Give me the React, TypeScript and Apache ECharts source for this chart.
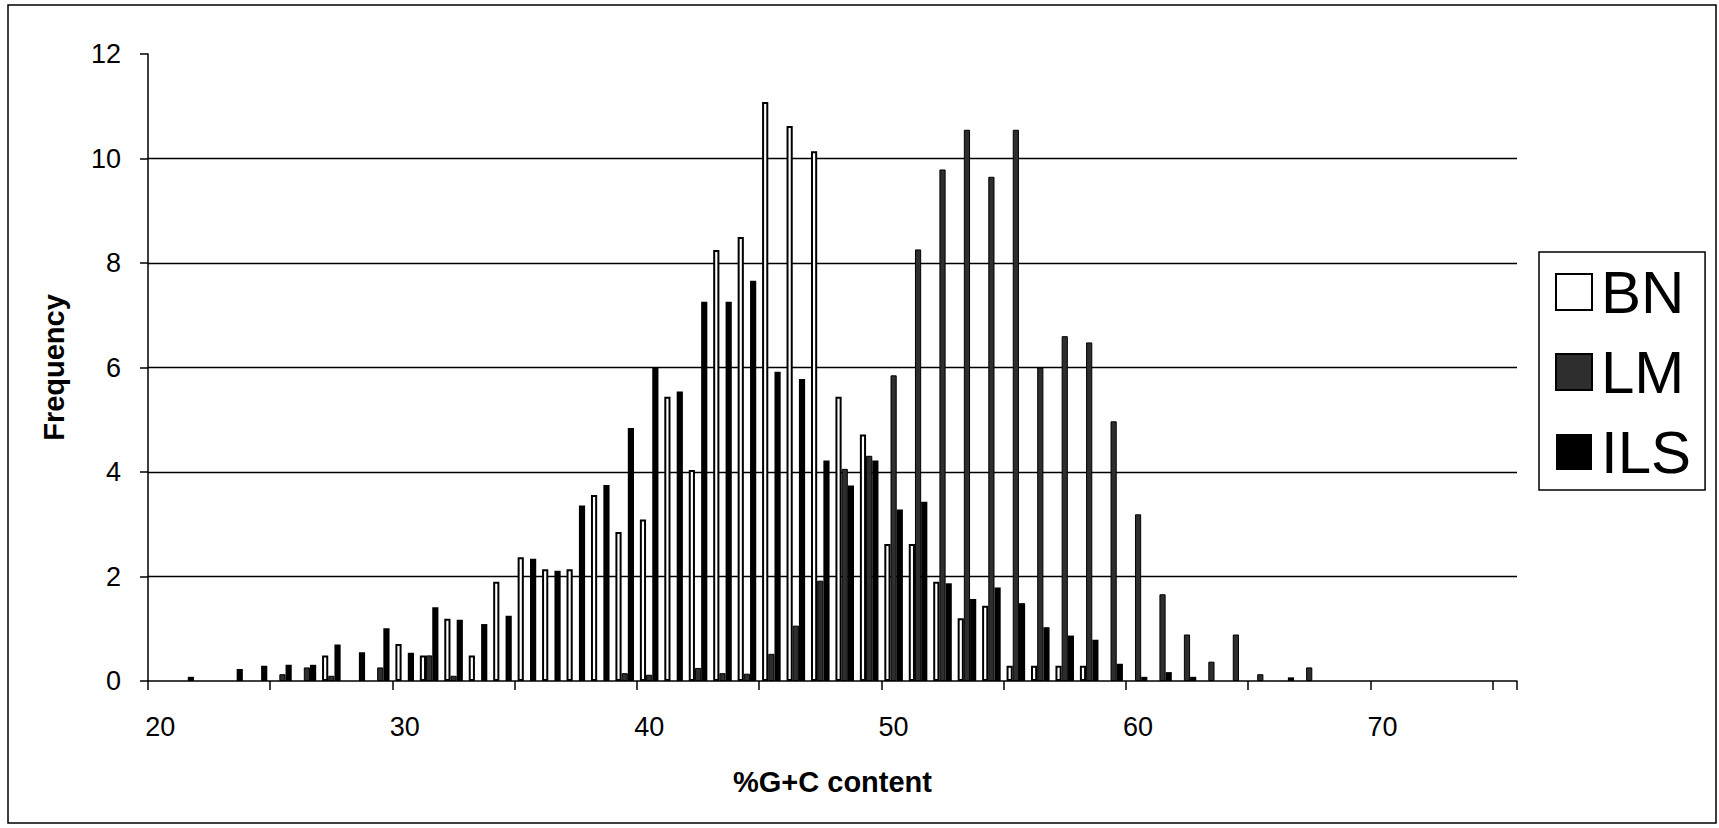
import React, { useEffect, useRef } from "react";
import * as echarts from "echarts";

const categories = [
  "20","21","22","23","24","25","26","27","28","29",
  "30","31","32","33","34","35","36","37","38","39",
  "40","41","42","43","44","45","46","47","48","49",
  "50","51","52","53","54","55","56","57","58","59",
  "60","61","62","63","64","65","66","67","68","69",
  "70","71","72","73","74","75",
];

const bnValues = [
  0, 0, 0, 0, 0, 0, 0, 0.49, 0, 0,
  0.71, 0.49, 1.19, 0.49, 1.9, 2.37, 2.14, 2.14, 3.56, 2.85,
  3.09, 5.44, 4.04, 8.25, 8.5, 11.08, 10.62, 10.14, 5.44, 4.72,
  2.62, 2.62, 1.9, 1.2, 1.44, 0.29, 0.29, 0.29, 0.29, 0,
  0, 0, 0, 0, 0, 0, 0, 0, 0, 0,
  0, 0, 0, 0, 0, 0,
];

const lmValues = [
  0, 0, 0, 0, 0, 0.13, 0.26, 0.1, 0, 0.26,
  0, 0.49, 0.1, 0, 0, 0, 0, 0, 0, 0.15,
  0.12, 0, 0.25, 0.15, 0.14, 0.52, 1.06, 1.92, 4.06, 4.31,
  5.85, 8.26, 9.79, 10.55, 9.65, 10.55, 6.0, 6.6, 6.48, 4.97,
  3.19, 1.66, 0.89, 0.37, 0.89, 0.13, 0, 0.26, 0, 0,
  0, 0, 0, 0, 0, 0,
];

const ilsValues = [
  0, 0.08, 0, 0.23, 0.29, 0.31, 0.31, 0.7, 0.55, 1.01,
  0.54, 1.41, 1.17, 1.09, 1.25, 2.34, 2.11, 3.36, 3.75, 4.84,
  6.0, 5.54, 7.26, 7.26, 7.66, 5.92, 5.78, 4.22, 3.74, 4.22,
  3.28, 3.43, 1.87, 1.57, 1.79, 1.49, 1.03, 0.87, 0.79, 0.33,
  0.08, 0.17, 0.08, 0, 0, 0, 0.07, 0, 0, 0,
  0, 0, 0, 0, 0, 0,
];

const yTicks = { min: 0, max: 12, interval: 2 };

const FONT = "'Liberation Sans', Arial, sans-serif";

const toBars = (arr: number[]) => arr.map((v) => (v === 0 ? "-" : v));

export default function App() {
  const ref = useRef<HTMLDivElement>(null);

  useEffect(() => {
    if (!ref.current) return;
    const chart = echarts.init(ref.current, null, { renderer: "svg" });
    chart.setOption({
      animation: false,
      backgroundColor: "#ffffff",
      grid: { left: 148, right: 202, top: 54, bottom: 147, containLabel: false },
      legend: {
        orient: "vertical",
        left: 1539,
        top: 252,
        icon: "rect",
        itemWidth: 36,
        itemHeight: 36,
        itemGap: 20,
        padding: [10, 14, 8, 16],
        borderColor: "#000",
        borderWidth: 1.5,
        textStyle: { fontSize: 60, fontFamily: FONT, color: "#000", lineHeight: 58, padding: [0, 0, 0, 4] },
        data: ["BN", "LM", "ILS"],
      },
      xAxis: {
        type: "category",
        data: categories,
        boundaryGap: true,
        name: "%G+C content",
        nameLocation: "middle",
        nameGap: 86,
        nameTextStyle: { fontSize: 29, fontWeight: "bold", fontFamily: FONT, color: "#000" },
        axisLine: { show: true, lineStyle: { color: "#000", width: 1.5 } },
        axisTick: { show: true, interval: 4, length: 9, lineStyle: { color: "#000", width: 1.5 } },
        axisLabel: { interval: 9, fontSize: 27, fontFamily: FONT, color: "#000", margin: 32 },
        splitLine: { show: false },
      },
      yAxis: {
        type: "value",
        min: yTicks.min,
        max: yTicks.max,
        interval: yTicks.interval,
        name: "Frequency",
        nameLocation: "middle",
        nameGap: 80,
        nameRotate: 90,
        nameTextStyle: { fontSize: 29, fontWeight: "bold", fontFamily: FONT, color: "#000" },
        axisLine: { show: true, lineStyle: { color: "#000", width: 1.5 } },
        axisTick: { show: true, length: 8, lineStyle: { color: "#000", width: 1.5 } },
        axisLabel: { fontSize: 27, fontFamily: FONT, color: "#000", margin: 27 },
        splitLine: { show: true, showMinLine: false, showMaxLine: false, lineStyle: { color: "#000", width: 1.3 } },
      },
      series: [
        {
          name: "BN",
          type: "bar",
          data: toBars(bnValues),
          barGap: "0%",
          barCategoryGap: "24%",
          itemStyle: { color: "#ffffff", borderColor: "#000", borderWidth: 2 },
        },
        {
          name: "LM",
          type: "bar",
          data: toBars(lmValues),
          barGap: "0%",
          barCategoryGap: "24%",
          itemStyle: { color: "#2e2e2e", borderColor: "#000", borderWidth: 1 },
        },
        {
          name: "ILS",
          type: "bar",
          data: toBars(ilsValues),
          barGap: "0%",
          barCategoryGap: "24%",
          itemStyle: { color: "#000000" },
        },
      ],
      graphic: [
        {
          type: "rect",
          silent: true,
          shape: { x: 8, y: 5, width: 1708, height: 818 },
          style: { fill: "none", stroke: "#000", lineWidth: 1.5 },
        },
      ],
    });
    return () => chart.dispose();
  }, []);

  return (
    <div
      ref={ref}
      style={{ position: "absolute", left: 0, top: 0, width: "1719px", height: "828px" }}
    />
  );
}
